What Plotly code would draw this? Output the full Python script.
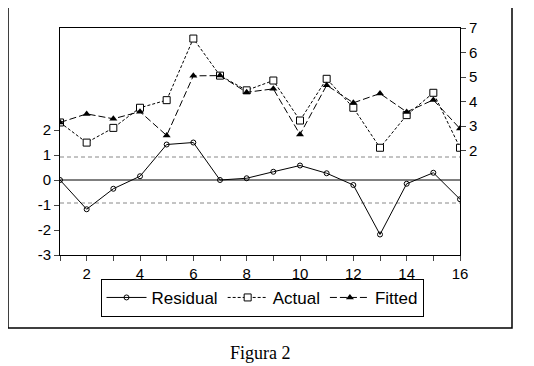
import plotly.graph_objects as go

obs = list(range(1, 17))
residual = [0.0, -1.17, -0.35, 0.15, 1.42, 1.50, 0.0, 0.07, 0.33, 0.58, 0.27, -0.20, -2.18, -0.15, 0.29, -0.77]
actual = [3.15, 2.33, 2.93, 3.75, 4.06, 6.57, 5.06, 4.46, 4.86, 3.23, 4.93, 3.75, 2.12, 3.45, 4.36, 2.12]
fitted = [3.15, 3.50, 3.30, 3.59, 2.62, 5.05, 5.06, 4.38, 4.52, 2.66, 4.67, 3.95, 4.33, 3.58, 4.07, 2.90]
band = 0.92
left_ticks = [-3, -2, -1, 0, 1, 2]
left_labels = ["-3", "-2", "-1", "0", "1", "2"]
right_ticks = [2, 3, 4, 5, 6, 7]
x_labels = [str(v) if v % 2 == 0 else "" for v in obs]

fig = go.Figure()
fig.add_trace(go.Scatter(x=obs, y=residual, name="Residual", mode="lines+markers",
                         line=dict(color="black", width=1),
                         marker=dict(symbol="circle-open", size=5, color="black", line=dict(width=1))))
fig.add_trace(go.Scatter(x=obs, y=actual, name="Actual", mode="lines+markers", yaxis="y2",
                         line=dict(color="black", width=1, dash="3px,2px"),
                         marker=dict(symbol="square", size=7, color="white", line=dict(width=1, color="black"))))
fig.add_trace(go.Scatter(x=obs, y=fitted, name="Fitted", mode="lines+markers", yaxis="y2",
                         line=dict(color="black", width=1, dash="7px,3px"),
                         marker=dict(symbol="triangle-up", size=7, color="black")))

# reference lines
fig.add_shape(type="line", xref="x", yref="y", x0=1, x1=16, y0=0, y1=0,
              line=dict(color="black", width=1), layer="below")
for v in (band, -band):
    fig.add_shape(type="line", xref="x", yref="y", x0=1, x1=16, y0=v, y1=v,
                  line=dict(color="#888888", width=1, dash="4px,3px"), layer="below")

# outer frame
fig.add_shape(type="rect", xref="paper", yref="paper", x0=-0.13, x1=1.13, y0=-0.3216, y1=1.110,
              line=dict(color="black", width=1.5), fillcolor="rgba(0,0,0,0)")

fig.add_annotation(text="Figura 2", xref="paper", yref="paper", x=0.5, y=-0.432,
                   xanchor="center", yanchor="middle",
                   showarrow=False, font=dict(family="Liberation Serif", size=18, color="black"))

axis_font = dict(family="Liberation Sans, Arial", size=15, color="black")
fig.update_layout(
    width=526, height=358,
    margin=dict(l=52, r=74, t=20, b=111, autoexpand=False),
    paper_bgcolor="white", plot_bgcolor="white",
    font=axis_font,
    xaxis=dict(range=[1, 16], tickvals=obs, ticktext=x_labels, ticks="outside", ticklen=5,
               showgrid=False, zeroline=False, showline=True, linecolor="black", mirror=True,
               tickfont=axis_font),
    yaxis=dict(range=[-3, 6.08], tickvals=left_ticks, ticktext=left_labels, ticks="outside", ticklen=5,
               showgrid=False, zeroline=False, showline=True, linecolor="black", mirror=True,
               tickfont=axis_font),
    yaxis2=dict(range=[-2.25, 7], tickvals=right_ticks, ticks="outside", ticklen=5,
                overlaying="y", side="right", showgrid=False, zeroline=False,
                showline=True, linecolor="black", tickfont=axis_font),
    legend=dict(orientation="h", x=0.505, xanchor="center", y=-0.189, yanchor="middle",
                bordercolor="black", borderwidth=1, bgcolor="white",
                font=dict(family="Liberation Sans, Arial", size=17, color="black"),
                itemwidth=40, tracegroupgap=0),
    showlegend=True,
)

fig.write_html("out.html")
